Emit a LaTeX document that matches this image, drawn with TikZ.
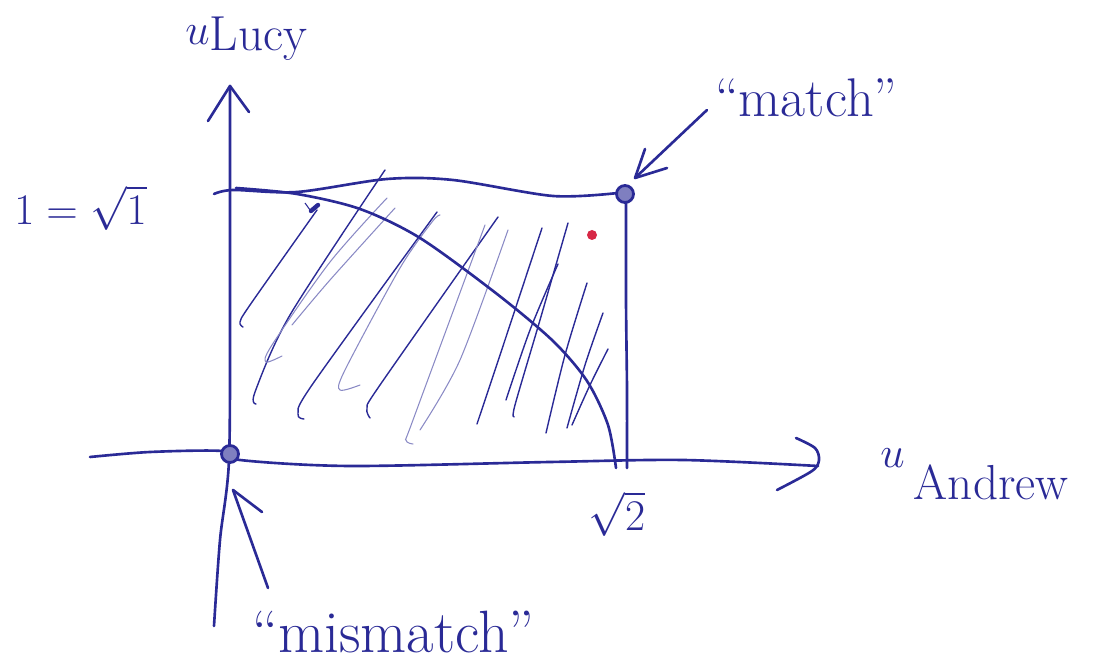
\documentclass[tikz,border=0pt]{standalone}
\usepackage{fontspec}
\usetikzlibrary{calc}
\definecolor{ink}{RGB}{42,42,150}
\definecolor{redink}{RGB}{215,40,70}
\newcommand{\subtxt}[2]{\raisebox{-#2pt}{\fontsize{28}{32}\selectfont #1}}
\begin{document}
\begin{tikzpicture}[x=0.02cm,y=-0.02cm,
  pen/.style={draw=ink,line width=1.5pt,line cap=round,line join=round},
  hatch/.style={draw=ink,line width=0.8pt,line cap=round},
  faint/.style={draw=ink!55,line width=0.6pt,line cap=round},
  lbl/.style={text=ink,inner sep=0pt,font=\fontsize{31}{35}\selectfont},
  ring/.style={circle,draw=ink,line width=1.6pt,fill=ink!60,minimum size=17*0.02cm,inner sep=0pt}]
\useasboundingbox (0,0) rectangle (1106,671);
% key points
\coordinate (O) at (230,454);
\coordinate (M) at (625,194);
\coordinate (ytip) at (230,86);
\coordinate (xtip) at (818,466);
% hatch strokes
\draw[hatch] plot[smooth] coordinates {(243,327) (240,322) (250,305) (317,210)};
\draw[hatch] plot[smooth] coordinates {(256,404) (255,392) (290,315) (385,170)};
\draw[faint] plot[smooth] coordinates {(282,356) (266,362) (272,345) (330,262) (387,198)};
\draw[faint] plot[smooth] coordinates {(292,325) (330,280) (395,208)};
\draw[hatch] plot[smooth] coordinates {(304,419) (298,414) (312,385) (437,212)};
\draw[faint] plot[smooth] coordinates {(360,385) (340,390) (345,370) (400,268) (432,222) (440,215)};
\draw[hatch] plot[smooth] coordinates {(370,418) (367,408) (380,385) (498,217)};
\draw[faint] plot[smooth] coordinates {(413,444) (406,440) (413,420) (485,225)};
\draw[faint] plot[smooth] coordinates {(420,430) (460,360) (508,230)};
\draw[hatch] plot[smooth] coordinates {(477,424) (505,340) (542,228)};
\draw[hatch] plot[smooth] coordinates {(514,417) (515,405) (540,320) (568,223)};
\draw[hatch] plot[smooth] coordinates {(506,400) (530,330) (558,264)};
\draw[hatch] plot[smooth] coordinates {(546,433) (565,355) (587,283)};
\draw[hatch] plot[smooth] coordinates {(567,428) (585,365) (603,313)};
\draw[hatch] plot[smooth] coordinates {(572,425) (590,385) (608,349)};
% small marks
\draw[pen,line width=2.5pt] (311,211) -- (318,205);
\draw[ink,line width=0.6pt] (305,203) -- (310,210);
% rectangle top and right edges
\draw[pen] plot[smooth] coordinates {(214,194) (233,190) (297,192) (387,179) (453,180) (553,196) (618,193)};
\draw[pen] plot[smooth] coordinates {(626,200) (626,300) (627,390) (627,468)};
% quarter curve
\draw[pen] plot[smooth] coordinates {(236,188) (297,194) (360,209) (420,238) (497,294) (553,341) (587,381) (608,425) (616,468)};
% axes
\draw[pen] plot[smooth] coordinates {(214,626) (220,540) (229,460) (230,300) (ytip)};
\draw[pen] (208,121) -- (ytip) -- (249,112);
\draw[pen] plot[smooth] coordinates {(90,457) (150,452) (222,451) (240,460) (350,466) (550,462) (683,460) (xtip)};
\draw[pen] plot[smooth] coordinates {(796,438) (815,448) (819,460) (812,471) (777,490)};
% points
\node[ring] (mis) at (O) {};
\node[ring] (mat) at (M) {};
% red dot
\fill[redink] (592,235) circle (5);
% labels
\node[lbl,anchor=base west] (ul) at (185,45) {$u$\subtxt{Lucy}{3}};
\node[lbl,anchor=west,font=\fontsize{35}{40}\selectfont] (one) at (14,208) {$1=\sqrt{1}$};
\node[lbl,anchor=base west] (ua) at (880,468) {$u$\,\subtxt{Andrew}{18}};
\node[lbl] (s2) at (617,514) {$\sqrt{2}$};
\node[lbl,anchor=west] (matl) at (715,98) {``match''};
\node[lbl,anchor=west,font=\fontsize{34}{38}\selectfont] (misl) at (252,632) {``mismatch''};
% pointer arrows
\coordinate (a1) at (707,110);
\coordinate (a2) at (268,588);
\draw[pen] (a1) -- ($(mat)+(10,-16)$);
\draw[pen] ($(mat)+(20,-45)$) -- ($(mat)+(10,-16)$) -- ($(mat)+(42,-26)$);
\draw[pen] (a2) -- ($(mis)+(3,36)$);
\draw[pen] ($(mis)+(32,58)$) -- ($(mis)+(3,36)$);
\end{tikzpicture}
\end{document}
